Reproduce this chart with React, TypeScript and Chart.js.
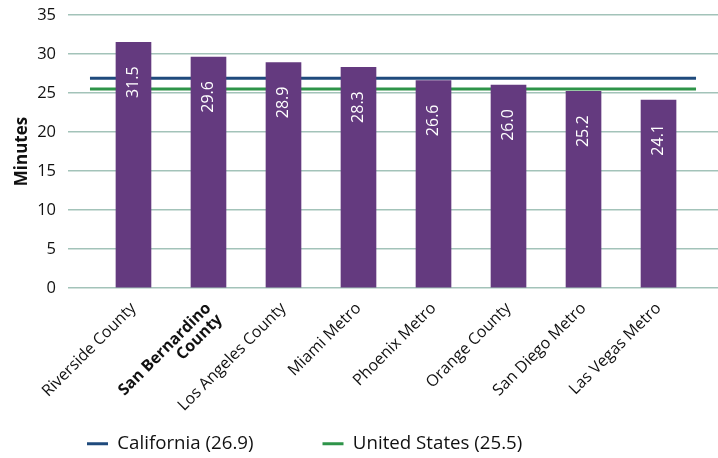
import React, { useEffect, useRef } from "react";
import { Chart, registerables } from "chart.js";

Chart.register(...registerables);

const categories: (string | string[])[] = [
  "Riverside County",
  ["San Bernardino", "County"],
  "Los Angeles County",
  "Miami Metro",
  "Phoenix Metro",
  "Orange County",
  "San Diego Metro",
  "Las Vegas Metro",
];
const commuteMinutes = [31.5, 29.6, 28.9, 28.3, 26.6, 26.0, 25.2, 24.1];
const californiaAvg = 26.9;
const usAvg = 25.5;
const refLineSpan = [-0.58, 7.5];
const yTicks = [0, 5, 10, 15, 20, 25, 30, 35];
const boldCategoryIndex = 1;

const FONT = "'Open Sans', 'Noto Sans', sans-serif";
const PURPLE = "#643a7f";
const BLUE = "#1f4a7c";
const GREEN = "#2e9449";
const GRID = "#a3c3b9";

const LEGEND_FONT = 18.7;
const LEGEND_PAD = 69;
const PAD_L = 87 - LEGEND_PAD;
const PAD_B = -5;

const barLabelPlugin = {
  id: "barLabels",
  afterDatasetsDraw(chart: any) {
    const meta = chart.getDatasetMeta(0);
    const ctx = chart.ctx;
    meta.data.forEach((bar: any, i: number) => {
      ctx.save();
      ctx.translate(bar.x, bar.y + 24);
      ctx.rotate(-Math.PI / 2);
      ctx.textAlign = "right";
      ctx.textBaseline = "middle";
      ctx.fillStyle = "#ffffff";
      ctx.font = `16px ${FONT}`;
      ctx.fillText(commuteMinutes[i].toFixed(1), 0, 0);
      ctx.restore();
    });
  },
};

export default function App() {
  const ref = useRef<HTMLCanvasElement | null>(null);
  useEffect(() => {
    if (!ref.current) return;
    Chart.defaults.font.family = FONT;
    Chart.defaults.color = "#111111";
    const chart = new Chart(ref.current, {
      type: "bar",
      data: {
        datasets: [
          {
            type: "bar",
            label: "Mean commute",
            data: commuteMinutes.map((v, i) => ({ x: i, y: v })),
            backgroundColor: PURPLE,
            barThickness: 35,
            order: 0,
          } as any,
          {
            type: "line",
            label: `California (${californiaAvg})`,
            data: refLineSpan.map((x) => ({ x, y: californiaAvg })),
            borderColor: BLUE,
            backgroundColor: BLUE,
            borderWidth: 3,
            pointRadius: 0,
            order: 1,
          },
          {
            type: "line",
            label: `United States (${usAvg})`,
            data: refLineSpan.map((x) => ({ x, y: usAvg })),
            borderColor: GREEN,
            backgroundColor: GREEN,
            borderWidth: 3,
            pointRadius: 0,
            order: 1,
          },
        ],
      },
      options: {
        animation: false,
        responsive: true,
        maintainAspectRatio: false,
        layout: { padding: { left: PAD_L, right: 0, top: 15, bottom: PAD_B } },
        plugins: {
          tooltip: { enabled: false },
          legend: {
            position: "bottom",
            align: "start",
            labels: {
              filter: (item: any) => item.datasetIndex > 0,
              usePointStyle: true,
              pointStyle: "line",
              pointStyleWidth: 21,
              boxHeight: 3,
              padding: LEGEND_PAD,
              color: "#111111",
              font: { size: LEGEND_FONT, family: FONT },
            },
          },
        },
        scales: {
          x: {
            type: "linear",
            offset: false,
            bounds: "data",
            min: -0.873,
            max: 7.793,
            grid: { display: false, offset: false },
            border: { display: false },
            afterBuildTicks: (scale: any) => {
              scale.ticks = categories.map((_, i) => ({ value: i }));
            },
            afterFit: (scale: any) => {
              // let the rotated labels run past the axis box instead of being clipped
              scale._computeLabelArea = () => undefined;
              scale.height = 458 - PAD_B - (LEGEND_FONT + LEGEND_PAD + 10) - 288;
            },
            ticks: {
              autoSkip: false,
              minRotation: 45,
              maxRotation: 45,
              padding: 4,
              color: "#111111",
              font: (ctx: any) => ({
                size: 16,
                family: FONT,
                weight: ctx.index === boldCategoryIndex ? "bold" : "normal",
                lineHeight: 1.0,
              }),
              callback: (value: any) => categories[value as number] as any,
            },
          },
          y: {
            min: 0,
            max: 35,
            afterBuildTicks: (scale: any) => {
              scale.ticks = yTicks.map((v) => ({ value: v }));
            },
            afterFit: (scale: any) => {
              scale.width = 68 - PAD_L;
            },
            grid: {
              color: GRID,
              lineWidth: 1.6,
              drawTicks: true,
              tickLength: 12,
              tickColor: "rgba(0,0,0,0)",
            },
            border: { display: false },
            title: {
              display: true,
              text: "Minutes",
              color: "#111111",
              font: { size: 17, weight: "bold", family: FONT, lineHeight: 1.2 },
              padding: { top: 22.5 - PAD_L - 10.2, bottom: 0 },
            },
            ticks: {
              padding: 0,
              color: "#111111",
              font: { size: 16.5, family: FONT },
            },
          },
        },
      },
      plugins: [barLabelPlugin],
    } as any);
    return () => chart.destroy();
  }, []);
  return (
    <div style={{ position: "fixed", left: 0, top: 0, width: 718, height: 458, background: "#fff" }}>
      <canvas ref={ref} />
    </div>
  );
}
